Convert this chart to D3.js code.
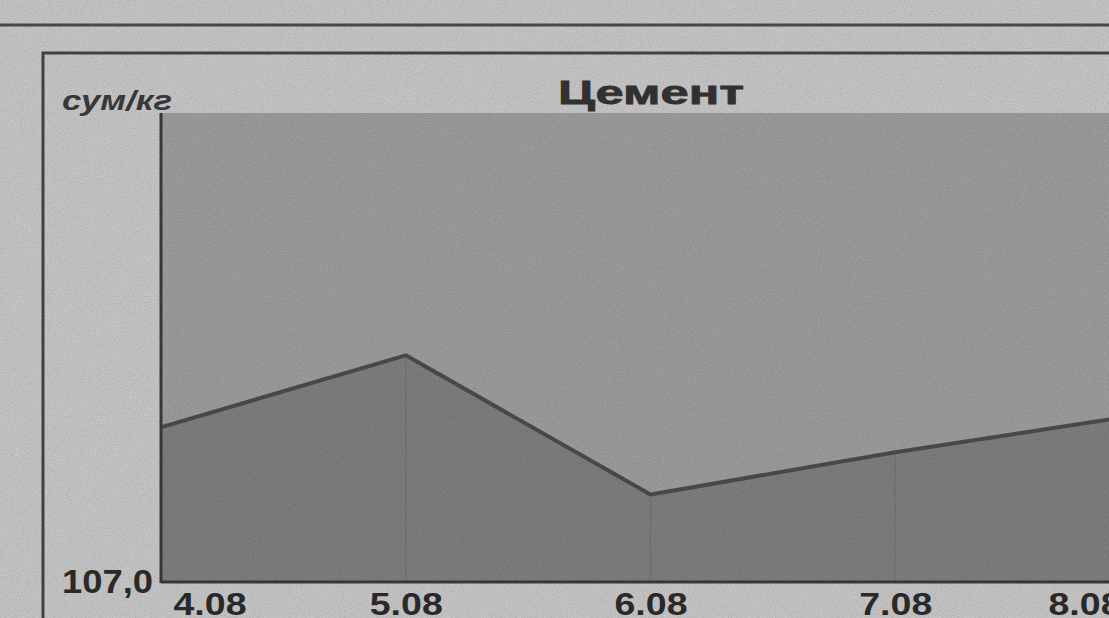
<!DOCTYPE html>
<html>
<head>
<meta charset="utf-8">
<script src="https://cdn.jsdelivr.net/npm/d3@7"></script>
<style>
    html, body { margin: 0; padding: 0; background: #c6c6c6; overflow: hidden; }
    svg { display: block; }
    .tick text { font-family: "Liberation Sans", Arial, sans-serif; font-weight: bold; fill: #2b2b2b; }
</style>
</head>
<body>
<svg id="chart" width="1109" height="618"></svg>
<script>
// values (сум/кг)
var dates = ['4.08', '5.08', '6.08', '7.08', '8.08'];
var prices = [107.99, 108.45, 107.56, 107.83, 108.07];
var yTicks = [107.0];
var title = 'Цемент';
var unit = 'сум/кг';

var W = 1109, H = 618;
var plot = { left: 161, right: 1140, top: 113, bottom: 582 };

var svg = d3.select('#chart');

// grain for the scanned look
var defs = svg.append('defs');
var grain = defs.append('filter').attr('id', 'grain').attr('x', 0).attr('y', 0).attr('width', '100%').attr('height', '100%');
grain.append('feTurbulence').attr('type', 'fractalNoise').attr('baseFrequency', 0.85).attr('numOctaves', 2).attr('seed', 3);
grain.append('feColorMatrix').attr('type', 'matrix')
        .attr('values', '0 0 0 0 0  0 0 0 0 0  0 0 0 0 0  0 0 0 -1.6 1.1');

defs.append('clipPath').attr('id', 'plotclip')
        .append('rect')
        .attr('x', plot.left).attr('y', plot.top)
        .attr('width', plot.right - plot.left).attr('height', plot.bottom - plot.top);

var x = d3.scalePoint().domain(dates).range([plot.left, plot.right]);
var y = d3.scaleLinear().domain([107, 110]).range([plot.bottom, plot.top]);

// page frame lines
svg.append('line').attr('x1', 0).attr('x2', W).attr('y1', 25).attr('y2', 25)
        .attr('stroke', '#4a4a4a').attr('stroke-width', 3);
svg.append('path').attr('d', 'M43,' + H + 'V53H' + W)
        .attr('fill', 'none').attr('stroke', '#444').attr('stroke-width', 3);

// plot background
svg.append('rect')
        .attr('x', plot.left).attr('y', plot.top)
        .attr('width', plot.right - plot.left).attr('height', plot.bottom - plot.top)
        .attr('fill', '#9c9c9c');

var g = svg.append('g').attr('clip-path', 'url(#plotclip)');

var area = d3.area()
        .x(function(d, i) { return x(dates[i]); })
        .y0(plot.bottom)
        .y1(function(d) { return y(d); });

var line = d3.line()
        .x(function(d, i) { return x(dates[i]); })
        .y(function(d) { return y(d); });

g.append('path').datum(prices).attr('d', area).attr('fill', '#7e7e7e');

// faint verticals under the curve
g.selectAll('.grid').data(dates.slice(1)).enter().append('line')
        .attr('class', 'grid')
        .attr('x1', function(d) { return x(d); })
        .attr('x2', function(d) { return x(d); })
        .attr('y1', function(d) { return y(prices[dates.indexOf(d)]); })
        .attr('y2', plot.bottom)
        .attr('stroke', '#6c6c6c').attr('stroke-width', 1.5).attr('stroke-opacity', 0.5);

g.append('path').datum(prices).attr('d', line)
        .attr('fill', 'none').attr('stroke', '#4b4b4b').attr('stroke-width', 4)
        .attr('stroke-linejoin', 'round');

// axes
var xAxis = d3.axisBottom(x).tickSize(0).tickPadding(0);
var gx = svg.append('g').attr('transform', 'translate(0,' + plot.bottom + ')').call(xAxis);
gx.select('.domain').remove();
gx.selectAll('.tick text')
        .attr('font-size', 32)
        .attr('y', 33)
        .attr('dy', 0)
        .attr('textLength', 73)
        .attr('lengthAdjust', 'spacingAndGlyphs');
// edge labels are pulled inside the plot
gx.selectAll('.tick text').filter(function(d, i) { return i === 0; })
        .attr('text-anchor', 'start').attr('dx', 12);
gx.selectAll('.tick text').filter(function(d, i, nodes) { return i === nodes.length - 1; })
        .attr('text-anchor', 'end').attr('dx', -19);

var yAxis = d3.axisLeft(y).tickValues(yTicks).tickSize(0).tickPadding(8)
        .tickFormat(function(d) { return d3.format('.1f')(d).replace('.', ','); });
var gy = svg.append('g').attr('transform', 'translate(' + plot.left + ',0)').call(yAxis);
gy.select('.domain').remove();
gy.selectAll('.tick text')
        .attr('font-size', 33)
        .attr('textLength', 91)
        .attr('lengthAdjust', 'spacingAndGlyphs');

svg.append('line').attr('x1', plot.left).attr('x2', plot.left).attr('y1', plot.top).attr('y2', plot.bottom + 1)
        .attr('stroke', '#3a3a3a').attr('stroke-width', 3);
svg.append('line').attr('x1', plot.left).attr('x2', W).attr('y1', plot.bottom).attr('y2', plot.bottom)
        .attr('stroke', '#3a3a3a').attr('stroke-width', 3);

// title and unit
svg.append('text')
        .attr('x', 651).attr('y', 104)
        .attr('text-anchor', 'middle')
        .attr('font-family', '"Liberation Sans", Arial, sans-serif')
        .attr('font-weight', 'bold').attr('font-size', 34)
        .attr('textLength', 186).attr('lengthAdjust', 'spacingAndGlyphs')
        .attr('fill', '#333')
        .attr('stroke', '#333').attr('stroke-width', 0.8)
        .text(title);

svg.append('text')
        .attr('x', 62).attr('y', 110)
        .attr('font-family', '"Liberation Sans", Arial, sans-serif')
        .attr('font-weight', 'bold').attr('font-style', 'italic').attr('font-size', 27)
        .attr('textLength', 110).attr('lengthAdjust', 'spacingAndGlyphs')
        .attr('fill', '#3a3a3a')
        .text(unit);

// grain overlay
svg.append('rect').attr('width', W).attr('height', H)
        .attr('filter', 'url(#grain)').attr('opacity', 0.12)
        .attr('pointer-events', 'none');
</script>
</body>
</html>
